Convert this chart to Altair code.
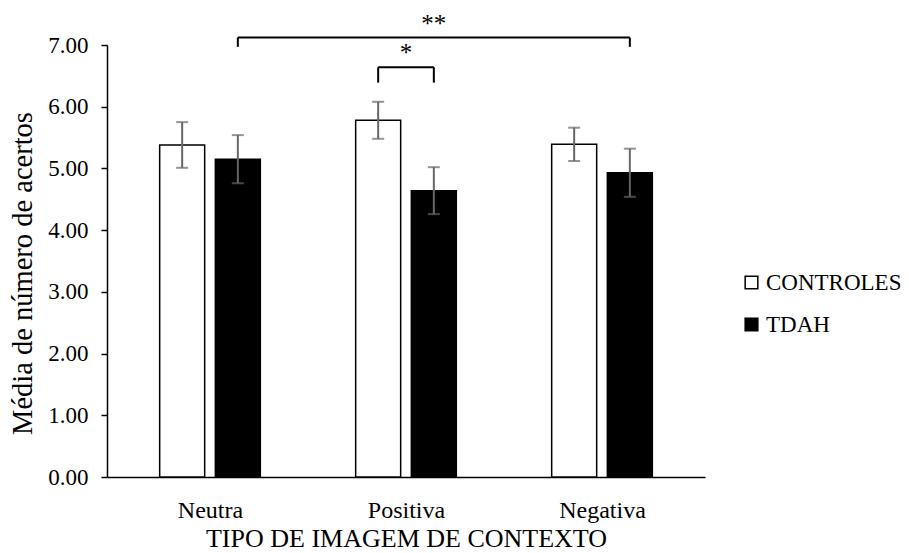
import altair as alt
import pandas as pd

# Categories and groups
categorias = ["Neutra", "Positiva", "Negativa"]
grupos = ["CONTROLES", "TDAH"]

# Mean number of correct answers and error-bar half widths per group
media_controles = [5.38, 5.78, 5.39]
erro_controles = [0.37, 0.30, 0.27]
media_tdah = [5.15, 4.64, 4.93]
erro_tdah = [0.39, 0.38, 0.39]

# Significance brackets: (category, group) at each end, top and leg heights, label
sig_inicio = [("Neutra", "TDAH"), ("Positiva", "CONTROLES")]
sig_fim = [("Negativa", "TDAH"), ("Positiva", "TDAH")]
sig_topo = [7.12, 6.64]
sig_base = [6.97, 6.39]
sig_rotulo = ["**", "*"]

y_ticks = [0, 1, 2, 3, 4, 5, 6, 7]

FONT = "Liberation Serif"
group_shift = {"CONTROLES": -0.142, "TDAH": 0.142}


def pos(cat, grp):
    return categorias.index(cat) + 1 + group_shift[grp]


rows = []
for grp, means, errs in [("CONTROLES", media_controles, erro_controles),
                         ("TDAH", media_tdah, erro_tdah)]:
    for cat, m, e in zip(categorias, means, errs):
        rows.append({"categoria": cat, "grupo": grp, "pos": pos(cat, grp),
                     "media": m, "lo": m - e, "hi": m + e})
df = pd.DataFrame(rows)

br = []
for a, b, t, base, lab in zip(sig_inicio, sig_fim, sig_topo, sig_base, sig_rotulo):
    x1, x2 = pos(*a), pos(*b)
    br.append({"x1": x1, "x2": x2, "xm": (x1 + x2) / 2, "top": t, "base": base, "rotulo": lab})
dfb = pd.DataFrame(br)

x_scale = alt.Scale(domain=[0.5, 3.5], nice=False, zero=False)
y_scale = alt.Scale(domain=[0, 7], nice=False)

label_expr = "[" + ",".join('"%s"' % c for c in categorias) + "][datum.value - 1]"

bars = alt.Chart(df).mark_bar(size=45, orient="vertical", stroke="black", strokeWidth=1.5).encode(
    x=alt.X("pos:Q", scale=x_scale,
            axis=alt.Axis(values=[1, 2, 3], labelExpr=label_expr, ticks=False, grid=False,
                          domainColor="black", domainWidth=1.5, labelFont=FONT, labelFontSize=24,
                          labelColor="black", labelPadding=21, labelBaseline="top",
                          title="TIPO DE IMAGEM DE CONTEXTO", titleFont=FONT, titleFontSize=26,
                          titleFontWeight="normal", titleColor="black", titleX=299, titleY=69,
                          titleBaseline="alphabetic", titleAlign="center")),
    y=alt.Y("media:Q", scale=y_scale,
            axis=alt.Axis(values=y_ticks, format=".2f", grid=False, tickSize=6,
                          tickColor="black", tickWidth=1.5, domainColor="black", domainWidth=1.5,
                          labelFont=FONT, labelFontSize=23, labelColor="black", labelPadding=13,
                          title="Média de número de acertos", titleFont=FONT, titleFontSize=28.5,
                          titleFontWeight="normal", titleColor="black", titleAngle=270,
                          titleX=-85, titleY=228, titleBaseline="middle", titleAlign="center")),
    fill=alt.Fill("grupo:N", scale=alt.Scale(domain=grupos, range=["white", "black"]),
                  legend=alt.Legend(title=None, orient="none", legendX=633, legendY=226,
                                    symbolType="square", symbolSize=160,
                                    symbolStrokeColor="black", symbolStrokeWidth=1.5,
                                    labelFont=FONT, labelFontSize=23, labelColor="black",
                                    labelOffset=3, rowPadding=18, padding=0)),
)

err_color = "#666666"
err = alt.Chart(df).mark_rule(color=err_color, strokeWidth=2).encode(
    x="pos:Q", y="lo:Q", y2="hi:Q")
cap_hi = alt.Chart(df).mark_tick(orient="horizontal", size=12, thickness=2, color=err_color).encode(
    x="pos:Q", y="hi:Q")
cap_lo = alt.Chart(df).mark_tick(orient="horizontal", size=12, thickness=2, color=err_color).encode(
    x="pos:Q", y="lo:Q")

br_h = alt.Chart(dfb).mark_rule(color="black", strokeWidth=2).encode(
    x="x1:Q", x2="x2:Q", y="top:Q")
br_l = alt.Chart(dfb).mark_rule(color="black", strokeWidth=2).encode(
    x="x1:Q", y="base:Q", y2="top:Q")
br_r = alt.Chart(dfb).mark_rule(color="black", strokeWidth=2).encode(
    x="x2:Q", y="base:Q", y2="top:Q")
br_t = alt.Chart(dfb).mark_text(font=FONT, fontSize=25, color="black", baseline="alphabetic",
                                dy=-6).encode(x="xm:Q", y="top:Q", text="rotulo:N")

chart = alt.layer(bars, err, cap_hi, cap_lo, br_h, br_l, br_r, br_t).properties(
    width=598, height=432,
    autosize=alt.AutoSizeParams(type="none"),
    padding={"left": 107, "top": 45, "right": 204, "bottom": 76},
    background="white",
).configure(font=FONT).configure_view(stroke=None).configure_legend(
    labelFont=FONT
).configure_axis(labelFont=FONT, titleFont=FONT)

chart.save("out.html", embed_options={"renderer": "svg", "actions": False})
